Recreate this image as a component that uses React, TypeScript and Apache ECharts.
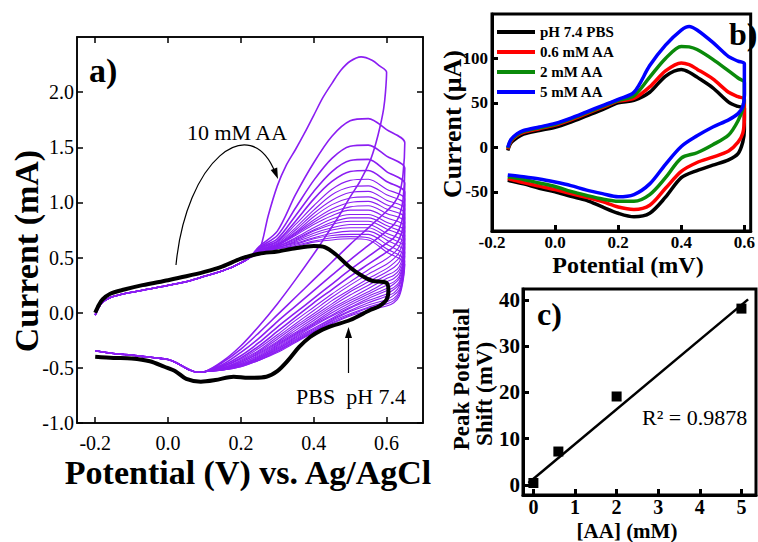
import React, { useEffect, useRef } from "react";
import * as echarts from "echarts";

const FONT = "Liberation Serif";
const PURPLE = "#8b1ef2";

// ---------- Panel a: CVs with increasing ascorbic acid ----------
const A_X_TICKS = [-0.2, 0, 0.2, 0.4, 0.6];
const A_Y_TICKS = [-1.0, -0.5, 0, 0.5, 1.0, 1.5, 2.0];

// shared start of the forward scans (V, mA)
const AA_FWD_POT = [-0.2, -0.19, -0.18, -0.16, -0.13, -0.1, -0.06, -0.02, 0.02, 0.06, 0.1, 0.14, 0.18, 0.22];
const AA_FWD_CUR = [-0.02, 0.05, 0.095, 0.135, 0.165, 0.185, 0.21, 0.235, 0.26, 0.29, 0.33, 0.37, 0.42, 0.49];

// anodic part of each forward scan
const AA_PEAK_POT = [0.25, 0.3, 0.35, 0.4, 0.45, 0.5, 0.55, 0.6, 0.65];
const AA_PEAK_CUR = [
  [0.60, 0.74, 1.07, 1.36, 1.60, 1.74, 1.76, 1.66, 1.54],
  [0.59, 0.70, 0.95, 1.20, 1.40, 1.51, 1.52, 1.42, 1.31],
  [0.585, 0.67, 0.88, 1.10, 1.28, 1.38, 1.39, 1.28, 1.17],
  [0.58, 0.65, 0.83, 1.03, 1.19, 1.28, 1.29, 1.19, 1.09],
  [0.575, 0.64, 0.80, 0.97, 1.12, 1.20, 1.21, 1.12, 1.03],
  [0.57, 0.63, 0.77, 0.93, 1.07, 1.14, 1.15, 1.07, 0.98],
  [0.57, 0.62, 0.75, 0.90, 1.02, 1.09, 1.10, 1.02, 0.94],
  [0.565, 0.62, 0.73, 0.87, 0.98, 1.04, 1.05, 0.98, 0.90],
  [0.565, 0.61, 0.72, 0.84, 0.94, 1.00, 1.01, 0.94, 0.86],
  [0.56, 0.61, 0.71, 0.82, 0.91, 0.96, 0.97, 0.90, 0.82],
  [0.56, 0.61, 0.70, 0.80, 0.88, 0.93, 0.93, 0.86, 0.78],
  [0.56, 0.60, 0.68, 0.77, 0.85, 0.89, 0.89, 0.82, 0.74],
  [0.56, 0.60, 0.67, 0.75, 0.82, 0.86, 0.86, 0.79, 0.70],
  [0.555, 0.60, 0.66, 0.74, 0.80, 0.83, 0.83, 0.76, 0.67],
  [0.555, 0.59, 0.65, 0.72, 0.77, 0.80, 0.80, 0.72, 0.63],
  [0.555, 0.59, 0.64, 0.70, 0.75, 0.77, 0.77, 0.69, 0.59],
  [0.55, 0.59, 0.63, 0.68, 0.72, 0.74, 0.74, 0.66, 0.55],
  [0.55, 0.58, 0.62, 0.67, 0.70, 0.71, 0.71, 0.62, 0.51],
  [0.55, 0.58, 0.61, 0.65, 0.68, 0.69, 0.68, 0.58, 0.47],
  [0.55, 0.58, 0.60, 0.64, 0.66, 0.67, 0.66, 0.55, 0.44],
];

// return scans
const AA_RET_POT = [0.645, 0.635, 0.62, 0.6, 0.55, 0.5, 0.45, 0.4, 0.35, 0.3, 0.25, 0.2, 0.15];
const AA_RET_CUR = [
  [1.25, 1.08, 0.99, 0.92, 0.77, 0.62, 0.46, 0.30, 0.14, -0.02, -0.18, -0.33, -0.45],
  [1.02, 0.88, 0.80, 0.74, 0.61, 0.48, 0.34, 0.20, 0.06, -0.08, -0.23, -0.36, -0.47],
  [0.88, 0.76, 0.68, 0.63, 0.51, 0.39, 0.26, 0.13, 0.0, -0.13, -0.27, -0.39, -0.48],
  [0.78, 0.67, 0.60, 0.55, 0.44, 0.33, 0.21, 0.09, -0.04, -0.17, -0.30, -0.41, -0.49],
  [0.71, 0.60, 0.54, 0.49, 0.39, 0.28, 0.17, 0.05, -0.07, -0.20, -0.32, -0.42, -0.49],
  [0.65, 0.55, 0.49, 0.44, 0.35, 0.25, 0.14, 0.02, -0.10, -0.22, -0.34, -0.43, -0.50],
  [0.60, 0.50, 0.45, 0.40, 0.31, 0.21, 0.11, -0.01, -0.12, -0.24, -0.35, -0.44, -0.50],
  [0.56, 0.46, 0.41, 0.37, 0.28, 0.19, 0.08, -0.03, -0.14, -0.26, -0.36, -0.45, -0.50],
  [0.52, 0.42, 0.37, 0.34, 0.25, 0.16, 0.06, -0.05, -0.16, -0.27, -0.37, -0.45, -0.51],
  [0.49, 0.39, 0.34, 0.31, 0.22, 0.13, 0.04, -0.07, -0.18, -0.28, -0.38, -0.46, -0.51],
  [0.46, 0.36, 0.31, 0.28, 0.19, 0.11, 0.02, -0.09, -0.19, -0.29, -0.39, -0.46, -0.51],
  [0.44, 0.33, 0.28, 0.25, 0.17, 0.09, 0.0, -0.10, -0.20, -0.30, -0.40, -0.47, -0.51],
  [0.42, 0.31, 0.26, 0.22, 0.15, 0.07, -0.02, -0.11, -0.21, -0.31, -0.40, -0.47, -0.51],
  [0.40, 0.28, 0.23, 0.20, 0.13, 0.05, -0.03, -0.12, -0.22, -0.32, -0.41, -0.47, -0.515],
  [0.38, 0.26, 0.21, 0.17, 0.11, 0.04, -0.05, -0.14, -0.23, -0.33, -0.41, -0.48, -0.515],
  [0.36, 0.24, 0.18, 0.15, 0.09, 0.02, -0.06, -0.15, -0.24, -0.33, -0.42, -0.48, -0.515],
  [0.34, 0.21, 0.16, 0.12, 0.07, 0.01, -0.07, -0.16, -0.25, -0.34, -0.42, -0.48, -0.52],
  [0.32, 0.19, 0.13, 0.10, 0.05, -0.01, -0.08, -0.17, -0.26, -0.35, -0.43, -0.48, -0.52],
  [0.30, 0.17, 0.11, 0.08, 0.04, -0.02, -0.09, -0.17, -0.26, -0.35, -0.43, -0.49, -0.52],
  [0.28, 0.15, 0.09, 0.06, 0.02, -0.03, -0.10, -0.18, -0.27, -0.36, -0.43, -0.49, -0.52],
];

// shared end of the return scans
const AA_TAIL_POT = [0.1, 0.08, 0.06, 0.04, 0.02, 0, -0.03, -0.06, -0.1, -0.15, -0.2];
const AA_TAIL_CUR = [-0.535, -0.54, -0.52, -0.485, -0.45, -0.425, -0.41, -0.4, -0.385, -0.37, -0.345];

// 10 mM AA scan (switches at 0.6 V)
const AA_TOP_POT = [0.25, 0.275, 0.3, 0.325, 0.35, 0.375, 0.4, 0.425, 0.45, 0.475, 0.5, 0.53, 0.56, 0.58, 0.6,
  0.597, 0.592, 0.583, 0.57, 0.555, 0.527, 0.5, 0.47, 0.44, 0.41, 0.35, 0.3, 0.25, 0.2, 0.15];
const AA_TOP_CUR = [0.56, 0.88, 1.15, 1.34, 1.48, 1.63, 1.79, 1.95, 2.08, 2.2, 2.28, 2.32, 2.29, 2.24, 2.18,
  2.0, 1.85, 1.7, 1.53, 1.38, 1.19, 1.05, 0.88, 0.73, 0.58, 0.3, 0.08, -0.12, -0.3, -0.44];

// PBS pH 7.4 blank
const PBS_A_POT = [-0.2, -0.19, -0.18, -0.16, -0.12, -0.07, 0, 0.05, 0.1, 0.15, 0.2, 0.25, 0.3, 0.35, 0.4, 0.43, 0.46,
  0.5, 0.53, 0.56, 0.6, 0.605, 0.6, 0.58, 0.555, 0.5, 0.45, 0.42, 0.39, 0.36, 0.33, 0.3, 0.27, 0.22, 0.18, 0.13, 0.09,
  0.05, 0.02, -0.01, -0.05, -0.1, -0.15, -0.2];
const PBS_A_CUR = [0.0, 0.07, 0.12, 0.17, 0.21, 0.25, 0.295, 0.33, 0.37, 0.42, 0.49, 0.535, 0.555, 0.585, 0.605, 0.595,
  0.53, 0.41, 0.34, 0.29, 0.27, 0.2, 0.12, 0.06, 0.024, -0.066, -0.12, -0.16, -0.22, -0.31, -0.43, -0.53, -0.58, -0.59,
  -0.58, -0.61, -0.625, -0.6, -0.53, -0.49, -0.44, -0.415, -0.41, -0.4];

// ---------- Panel b ----------
const B_X_TICKS = [-0.2, 0, 0.2, 0.4, 0.6];
const B_Y_TICKS = [-50, 0, 50, 100];
const B_POT = [-0.15, -0.14, -0.12, -0.1, -0.05, 0, 0.05, 0.1, 0.15, 0.2, 0.25, 0.3, 0.35, 0.4, 0.425, 0.45, 0.5, 0.55, 0.58, 0.6,
  0.6, 0.595, 0.58, 0.55, 0.5, 0.45, 0.4, 0.35, 0.3, 0.25, 0.2, 0.15, 0.1, 0.05, 0, -0.05, -0.1, -0.15];
const B_NAMES = ["pH 7.4 PBS", "0.6 mM AA", "2 mM AA", "5 mM AA"];
const B_COLORS = ["#000000", "#ff0000", "#0a8a0a", "#0000ff"];
const B_PBS = [-3.5, 5, 11, 15, 19, 22.5, 28.5, 35.5, 42.5, 50, 53, 62, 80, 87.5, 84.5, 79, 67, 51, 46, 44,
  20, 6, -7, -14, -20, -26, -34, -56, -74, -78, -74, -67, -59.5, -55, -50, -46, -41, -37];
const B_AA06 = [-2, 7, 13.5, 17, 21, 25, 31, 38, 45, 52, 55, 68, 86, 95, 93, 88, 77, 62, 57, 54,
  34, 16, 6, -4, -11, -17, -27, -46, -65, -69.7, -67, -61, -56, -52, -47.5, -43.5, -39.5, -35];
const B_AA2 = [-1, 8, 14.5, 18, 22, 26, 32, 39, 46, 53, 58, 79, 100, 113.5, 113, 110, 99, 86, 78, 73,
  60, 44, 30, 14, 3, -6, -12, -34, -53, -60.5, -60.5, -58, -54, -49.5, -44, -40, -36, -33];
const B_AA5 = [0, 9, 15.5, 19, 23, 27, 33, 40, 47, 54, 62, 92, 115, 132, 136, 132, 118, 102, 97, 94,
  58, 46, 38, 31, 23, 13, 1, -19, -41, -53, -55.5, -52, -48, -43, -39, -35.5, -33, -31];
const B_CURRENTS = [B_PBS, B_AA06, B_AA2, B_AA5];

// ---------- Panel c ----------
const C_X_TICKS = [0, 1, 2, 3, 4, 5];
const C_Y_TICKS = [0, 10, 20, 30, 40];
const C_CONC = [0, 0.6, 2, 5];
const C_SHIFT = [0.4, 7.2, 19.1, 38.1];
const C_FIT_CONC = [-0.12, 5.16];
const C_FIT_SHIFT = [0.4, 40.1];

const pairs = (xs: number[], ys: number[]) => xs.map((x, i) => [x, ys[i]]);

const tickFont = (size: number, bold: boolean) => ({
  fontFamily: FONT,
  fontSize: size,
  fontWeight: bold ? "bold" : "normal",
  color: "#000",
});

function valueAxis(
  gridIndex: number,
  min: number,
  max: number,
  ticks: number[],
  opts: { position?: string; labels?: boolean; size?: number; bold?: boolean; margin?: number; lineW?: number; digits?: number }
) {
  const lw = opts.lineW ?? 1.5;
  return {
    type: "value",
    gridIndex,
    min,
    max,
    position: opts.position,
    splitLine: { show: false },
    axisLine: { show: true, onZero: false, lineStyle: { color: "#000", width: lw } },
    axisTick: { show: true, inside: true, length: 6, customValues: ticks, lineStyle: { color: "#000", width: lw } },
    axisLabel: {
      show: opts.labels !== false,
      customValues: ticks,
      margin: opts.margin ?? 6,
      formatter: (v: number) => (opts.digits === undefined ? String(v) : v.toFixed(opts.digits)),
      ...tickFont(opts.size ?? 20, !!opts.bold),
    },
  };
}

function text(x: number, y: number, t: string, size: number, bold: boolean, rot = 0, align = "center") {
  return {
    type: "text",
    x,
    y,
    rotation: rot,
    z: 50,
    style: {
      text: t,
      fontFamily: FONT,
      fontSize: size,
      fontWeight: bold ? "bold" : "normal",
      fill: "#000",
      textAlign: align,
      textVerticalAlign: "middle",
    },
  };
}

function arrowHead(tipX: number, tipY: number, dx: number, dy: number, len: number, half: number) {
  const n = Math.hypot(dx, dy);
  const ux = dx / n;
  const uy = dy / n;
  const bx = tipX - ux * len;
  const by = tipY - uy * len;
  return {
    type: "polygon",
    z: 50,
    shape: { points: [[tipX, tipY], [bx - uy * half, by + ux * half], [bx + uy * half, by - ux * half]] },
    style: { fill: "#000" },
  };
}

function buildOption() {
  const aaSeries = AA_PEAK_CUR.map((fwd, i) => ({
    type: "line",
    xAxisIndex: 0,
    yAxisIndex: 0,
    symbol: "none",
    smooth: 0.3,
    silent: true,
    z: 2,
    lineStyle: { color: PURPLE, width: i < 4 ? 1.6 : 1.1 },
    data: [
      ...pairs(AA_FWD_POT, AA_FWD_CUR),
      ...pairs(AA_PEAK_POT, fwd),
      ...pairs(AA_RET_POT, AA_RET_CUR[i]),
      ...pairs(AA_TAIL_POT, AA_TAIL_CUR),
    ],
  }));
  const topSeries = {
    type: "line",
    xAxisIndex: 0,
    yAxisIndex: 0,
    symbol: "none",
    smooth: 0.3,
    silent: true,
    z: 2,
    lineStyle: { color: PURPLE, width: 1.6 },
    data: [...pairs(AA_FWD_POT, AA_FWD_CUR), ...pairs(AA_TOP_POT, AA_TOP_CUR), ...pairs(AA_TAIL_POT, AA_TAIL_CUR)],
  };
  const pbsA = {
    type: "line",
    xAxisIndex: 0,
    yAxisIndex: 0,
    symbol: "none",
    smooth: 0.3,
    silent: true,
    z: 5,
    lineStyle: { color: "#000", width: 4 },
    data: pairs(PBS_A_POT, PBS_A_CUR),
  };

  const bSeries = B_CURRENTS.map((cur, i) => ({
    name: B_NAMES[i],
    type: "line",
    xAxisIndex: 2,
    yAxisIndex: 2,
    symbol: "none",
    smooth: 0.3,
    silent: true,
    color: B_COLORS[i],
    lineStyle: { color: B_COLORS[i], width: 3.5 },
    data: pairs(B_POT, cur),
  }));

  const cPoints = {
    type: "scatter",
    xAxisIndex: 3,
    yAxisIndex: 3,
    symbol: "rect",
    symbolSize: 10,
    silent: true,
    z: 5,
    itemStyle: { color: "#000", opacity: 1 },
    data: pairs(C_CONC, C_SHIFT),
  };
  const cFit = {
    type: "line",
    xAxisIndex: 3,
    yAxisIndex: 3,
    symbol: "none",
    silent: true,
    lineStyle: { color: "#000", width: 2.5 },
    data: pairs(C_FIT_CONC, C_FIT_SHIFT),
  };

  return {
    animation: false,
    backgroundColor: "#fff",
    grid: [
      { left: 77, top: 37, width: 346, height: 386, show: true, borderColor: "#000", borderWidth: 1.5 },
      { left: 492, top: 14, width: 264, height: 217, show: true, borderColor: "#000", borderWidth: 3 },
      { left: 523, top: 289, width: 233, height: 206, show: true, borderColor: "#000", borderWidth: 3 },
    ],
    xAxis: [
      valueAxis(0, -0.25, 0.7, A_X_TICKS, { size: 20, margin: 10, digits: 1 }),
      valueAxis(0, -0.25, 0.7, A_X_TICKS, { position: "top", labels: false }),
      valueAxis(1, -0.2, 0.62, B_X_TICKS, { size: 17, bold: true, margin: 3, digits: 1, lineW: 3 }),
      valueAxis(2, -0.25, 5.35, C_X_TICKS, { size: 20, bold: true, margin: 2, lineW: 3 }),
    ],
    yAxis: [
      valueAxis(0, -1.0, 2.5, A_Y_TICKS, { size: 20, margin: 3, digits: 1 }),
      valueAxis(0, -1.0, 2.5, A_Y_TICKS, { position: "right", labels: false }),
      valueAxis(1, -94, 150, B_Y_TICKS, { size: 17, bold: true, margin: 4, lineW: 3 }),
      valueAxis(2, -2.2, 42.34, C_Y_TICKS, { size: 21, bold: true, margin: 3, lineW: 3 }),
    ],
    legend: {
      data: B_NAMES,
      orient: "vertical",
      left: 497,
      top: 24,
      padding: 0,
      icon: "rect",
      itemWidth: 38,
      itemHeight: 4,
      itemGap: 4,
      selectedMode: false,
      textStyle: { fontFamily: FONT, fontSize: 15, fontWeight: "bold", color: "#000", lineHeight: 16 },
    },
    graphic: [
      // panel a
      text(26, 251, "Current (mA)", 34, true, Math.PI / 2),
      text(248, 472, "Potential (V) vs. Ag/AgCl", 34, true),
      text(89, 70, "a)", 34, true, 0, "left"),
      text(237, 132, "10 mM AA", 22, false),
      text(351, 396, "PBS\u00a0\u00a0pH 7.4", 22, false),
      {
        type: "bezierCurve",
        z: 50,
        shape: { x1: 176, y1: 265, cpx1: 186, cpy1: 160, cpx2: 250, cpy2: 110, x2: 275, y2: 172 },
        style: { stroke: "#000", lineWidth: 1.2, fill: "none" },
      },
      arrowHead(278, 179, 27, 68, 11, 3.5),
      { type: "line", z: 50, shape: { x1: 348.5, y1: 373, x2: 348.5, y2: 336 }, style: { stroke: "#000", lineWidth: 1.2 } },
      arrowHead(348.5, 327, 0, -1, 11, 3.5),
      // panel b
      text(452, 124, "Current (μA)", 26, true, Math.PI / 2),
      text(628, 265, "Potential (mV)", 24, true),
      text(729, 34, "b)", 32, true, 0, "left"),
      // panel c
      text(461, 379, "Peak Potential", 23, true, Math.PI / 2),
      text(484, 394, "Shift (mV)", 23, true, Math.PI / 2),
      text(537, 314, "c)", 32, true, 0, "left"),
      text(642, 417, "R² = 0.9878", 22, false, 0, "left"),
      text(627, 531, "[AA] (mM)", 21, true),
    ],
    series: [...aaSeries, topSeries, pbsA, ...bSeries, cFit, cPoints],
  };
}

export default function App() {
  const ref = useRef<HTMLDivElement>(null);
  useEffect(() => {
    const chart = echarts.init(ref.current as HTMLDivElement, null, { renderer: "svg" });
    chart.setOption(buildOption() as any);
    return () => chart.dispose();
  }, []);
  return (
    <div
      ref={ref}
      style={{ position: "fixed", left: 0, top: 0, width: 758, height: 542, background: "#fff" }}
    />
  );
}
